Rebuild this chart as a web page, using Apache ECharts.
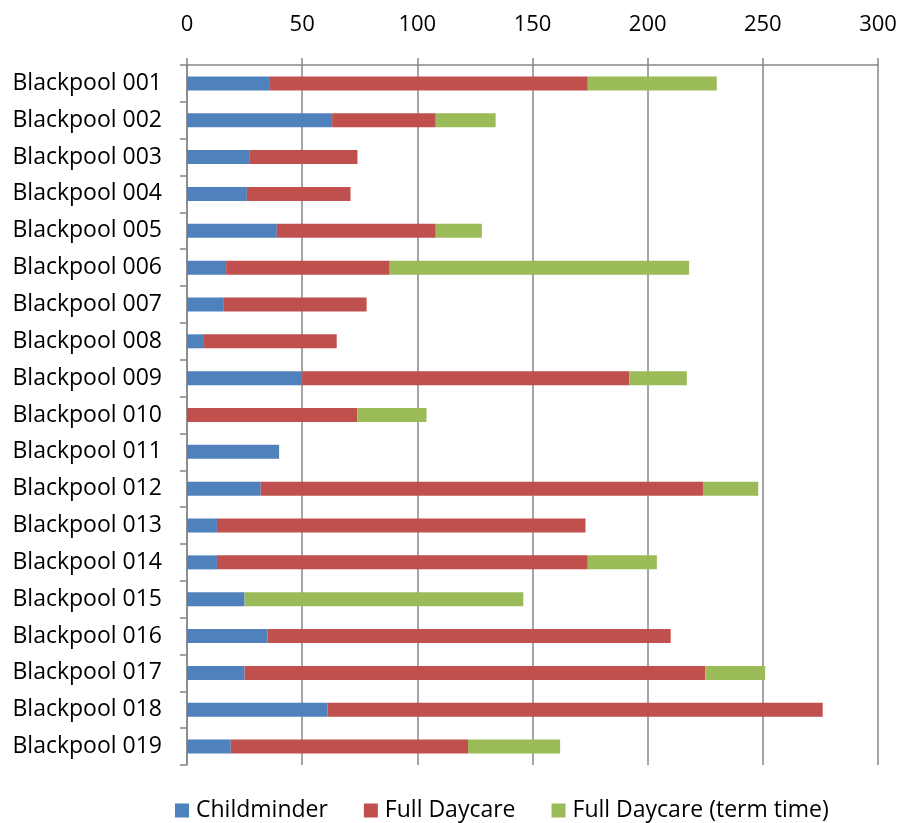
<!DOCTYPE html>
<html>
<head>
<meta charset="utf-8">
<script src="https://cdn.jsdelivr.net/npm/echarts@6/dist/echarts.min.js"></script>
<style>
html,body{margin:0;padding:0;background:#fff;}
#main{width:902px;height:823px;}
</style>
</head>
<body>
<div id="main"></div>
<script>
var categories = ['Blackpool 001','Blackpool 002','Blackpool 003','Blackpool 004','Blackpool 005','Blackpool 006','Blackpool 007','Blackpool 008','Blackpool 009','Blackpool 010','Blackpool 011','Blackpool 012','Blackpool 013','Blackpool 014','Blackpool 015','Blackpool 016','Blackpool 017','Blackpool 018','Blackpool 019'];
var childminder = [36, 63, 27, 26, 39, 17, 16, 7, 50, 0, 40, 32, 13, 13, 25, 35, 25, 61, 19];
var fullDaycare = [138, 45, 47, 45, 69, 71, 62, 58, 142, 74, 0, 192, 160, 161, 0, 175, 200, 215, 103];
var termTime = [56, 26, 0, 0, 20, 130, 0, 0, 25, 30, 0, 24, 0, 30, 121, 0, 26, 0, 40];
var xTicks = [0, 50, 100, 150, 200, 250, 300];

var FONT = '"Open Sans", "Liberation Sans", sans-serif';
var GRID = '#878787';
var chart = echarts.init(document.getElementById('main'), null, {renderer:'canvas'});

function barSeries(name, data, color) {
  return {
    name: name, type: 'bar', stack: 'total', barWidth: 14,
    data: data.map(function (v) { return v === 0 ? '-' : v; }),
    itemStyle: {color: color, borderWidth: 0, borderRadius: 0},
    emphasis: {disabled: true}
  };
}

chart.setOption({
  animation: false,
  backgroundColor: '#ffffff',
  textStyle: {fontFamily: FONT},
  grid: {left: 187, right: 24, top: 65, bottom: 58, containLabel: false},
  xAxis: {
    type: 'value', position: 'top', min: xTicks[0], max: xTicks[xTicks.length - 1], interval: 50,
    axisLine: {show: true, lineStyle: {color: GRID, width: 1.5}},
    axisTick: {show: true, length: 7, lineStyle: {color: GRID, width: 1.5}},
    splitLine: {show: true, lineStyle: {color: GRID, width: 1.5}},
    axisLabel: {color: '#000', fontSize: 22, fontFamily: FONT, margin: 29}
  },
  yAxis: {
    type: 'category', inverse: true, data: categories,
    axisLine: {show: true, onZero: false, lineStyle: {color: GRID, width: 1.5}},
    axisTick: {show: true, length: 7, alignWithLabel: false, lineStyle: {color: GRID, width: 1.5}},
    splitLine: {show: false},
    axisLabel: {color: '#000', fontSize: 23, fontFamily: FONT, margin: 25}
  },
  legend: {
    left: 170, top: 794, icon: 'rect', itemWidth: 14, itemHeight: 14, itemGap: 36,
    textStyle: {color: '#000', fontSize: 23, fontFamily: FONT, padding: [0, 0, 0, 2]},
    data: ['Childminder', 'Full Daycare', 'Full Daycare (term time)']
  },
  series: [
    barSeries('Childminder', childminder, '#4F81BD'),
    barSeries('Full Daycare', fullDaycare, '#C0504D'),
    barSeries('Full Daycare (term time)', termTime, '#9BBB59')
  ]
});
</script>
</body>
</html>
